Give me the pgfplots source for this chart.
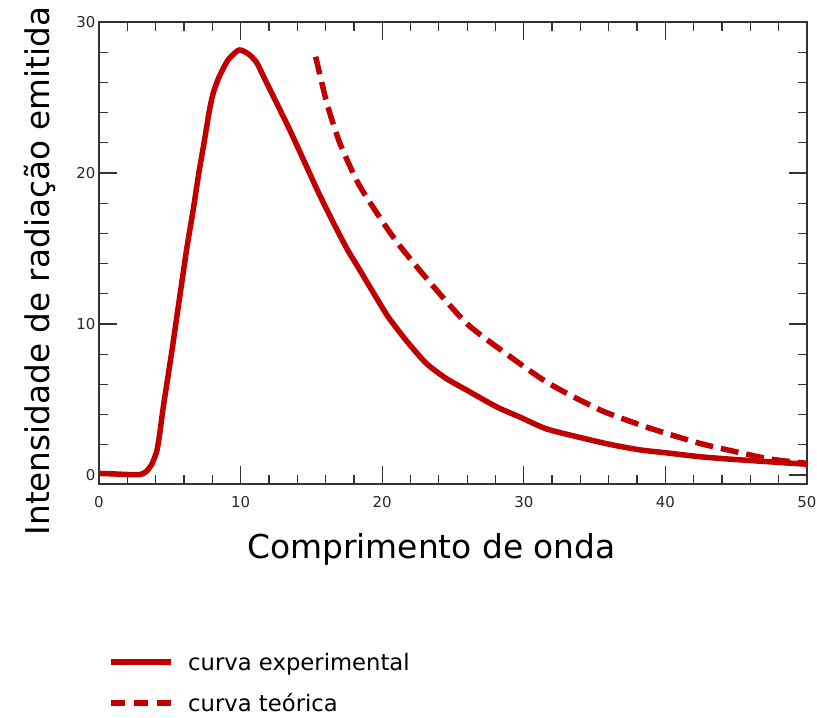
\documentclass[border=0pt]{standalone}
\usepackage{fontspec}
\setmainfont{DejaVu Sans}
\usepackage{pgfplots}
\pgfplotsset{compat=1.18}
\definecolor{curvered}{RGB}{192,0,0}

\begin{document}
\begin{tikzpicture}
\begin{axis}[
    scale only axis,
    width=708bp, height=462bp,
    xmin=0, xmax=50, ymin=-0.6, ymax=30,
    xtick={0,10,...,50}, ytick={0,10,20,30},
    minor tick num=4,
    tick align=inside,
    major tick length=18bp, minor tick length=9bp,
    axis line style={draw=black!80, line width=1.5bp},
    every tick/.style={draw=black!80, line width=1.3bp},
    /pgf/number format/assume math mode=true,
    tick label style={font=\fontsize{15}{18}\selectfont, text=black!85},
    xticklabel style={yshift=-9bp},
    xlabel={Comprimento de onda},
    ylabel={Intensidade de radiação emitida},
    xlabel style={at={(rel axis cs:0.4696,-0.1407)}, anchor=center, inner sep=0pt,
        font=\fontsize{33}{38}\selectfont},
    ylabel style={at={(rel axis cs:-0.0833,0.461)}, anchor=center, inner sep=0pt,
        font=\fontsize{32.8}{38}\selectfont},
    legend style={at={(rel axis cs:0.0127,-0.363)}, anchor=north west,
        draw=none, fill=none, inner sep=0pt,
        font=\fontsize{22.8}{27}\selectfont,
        row sep=20bp,
        nodes={inner sep=1bp},
        /tikz/every odd column/.append style={column sep=13bp}},
    legend cell align=left,
]
\addplot[curvered, line width=5.5bp, line join=round, smooth, tension=0.4,
    legend image code/.code={\draw[curvered, line width=6bp] (0bp,0bp) -- (60bp,0bp);}]
coordinates {
    (0,0.1) (1,0.07) (2,0.03) (2.9,0.03) (3.3,0.2) (3.7,0.66) (4.07,1.54)
    (4.3,2.8) (4.54,4.5) (5.13,8.1) (5.67,11.6) (6.2,15.0) (6.66,17.6)
    (7.05,20.0) (7.42,22.0) (7.79,24.1) (8.07,25.3) (8.5,26.4) (9.13,27.5)
    (9.9,28.15) (10.6,27.85) (11.14,27.3) (11.72,26.2) (12.3,25.1)
    (13.5,22.8) (14.67,20.4) (15.5,18.7) (16.5,16.8) (17.5,15.0)
    (18.4,13.6) (19.26,12.25) (20.4,10.5) (21.7,8.9) (23.1,7.4) (24.5,6.4)
    (26,5.6) (28.1,4.5) (29.8,3.8) (31.6,3.05) (34.2,2.43) (36.2,2.0)
    (38.2,1.66) (40.2,1.45) (42.4,1.21) (44.8,1.03) (47.2,0.88) (50,0.71)
};
\addlegendentry{curva experimental}
\addplot[curvered, line width=5.5bp, dash pattern=on 18bp off 8bp, smooth, tension=0.4,
    legend image code/.code={\draw[curvered, line width=6bp, dash pattern=on 14bp off 9bp] (0bp,0bp) -- (60bp,0bp);}]
coordinates {
    (15.3,27.7) (16.1,24.6) (17.0,22.0) (18.2,19.5) (19.1,18.1) (20.3,16.4)
    (21.3,15.1) (23.6,12.5) (26,10.0) (28.5,8.2) (31.7,6.1) (35.4,4.3)
    (38.9,3.1) (42.4,2.1) (44.9,1.55) (47.4,1.05) (50,0.77)
};
\addlegendentry{curva teórica}
\end{axis}
\pgfresetboundingbox
\path (-99bp,-234bp) rectangle (718bp,484bp);
\end{tikzpicture}
\end{document}
